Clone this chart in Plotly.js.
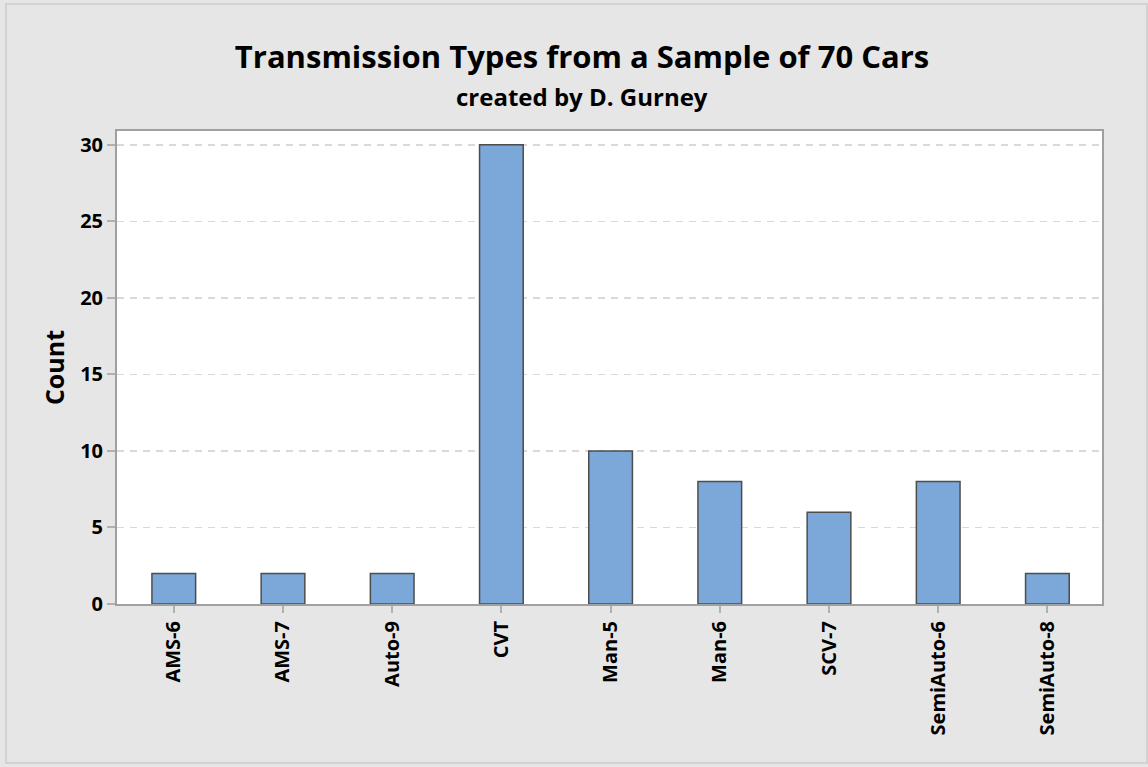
<!DOCTYPE html>
<html>
<head>
<meta charset="utf-8">
<script src="https://cdn.plot.ly/plotly-3.0.1.min.js"></script>
<style>html,body{margin:0;padding:0;background:#ffffff;}#chart{width:1148px;height:767px;}</style>
</head>
<body>
<div id="chart"></div>
<script>
const categories = ["AMS-6","AMS-7","Auto-9","CVT","Man-5","Man-6","SCV-7","SemiAuto-6","SemiAuto-8"];
const counts = [2, 2, 2, 30, 10, 8, 6, 8, 2];
const yTicks = [0, 5, 10, 15, 20, 25, 30];

const fontFam = "'Open Sans', 'Noto Sans', sans-serif";

const trace = {
  type: 'bar',
  x: categories,
  y: counts,
  width: 0.4,
  marker: {color: '#7BA7D9', line: {color: '#4d4d4d', width: 1.5}},
  hoverinfo: 'x+y'
};

const layout = {
  width: 1148, height: 767,
  paper_bgcolor: '#e6e6e6',
  plot_bgcolor: '#ffffff',
  margin: {l: 117, r: 46, t: 131, b: 163},
  showlegend: false,
  title: {text: '<b>Transmission Types from a Sample of 70 Cars</b>', xref: 'paper', x: (582-117)/985, xanchor: 'center', y: 0.925, yanchor: 'middle',
          font: {family: fontFam, size: 31, color: '#000'}},
  annotations: [{text: '<b>created by D. Gurney</b>', xref: 'paper', yref: 'paper', x: (582-117)/985, y: 1 + (131-96)/473, xanchor: 'center', yanchor: 'middle',
                 showarrow: false, font: {family: fontFam, size: 24, color: '#000'}}],
  xaxis: {
    type: 'category', range: [-0.52, 8.5],
    tickangle: -90, ticks: 'outside', ticklen: 7, tickwidth: 2, tickcolor: '#b0b0b0',
    tickfont: {family: fontFam, size: 20, color: '#000', weight: 'bold'},
    showline: true, linecolor: '#a0a0a0', linewidth: 2, mirror: true,
    showgrid: false, zeroline: false
  },
  yaxis: {
    range: [0, 30.9], tickvals: yTicks, ticktext: yTicks.map(String),
    ticks: 'outside', ticklen: 8, tickwidth: 2, tickcolor: '#b0b0b0',
    tickfont: {family: fontFam, size: 20, color: '#000', weight: 'bold'},
    showline: true, linecolor: '#a0a0a0', linewidth: 2, mirror: true,
    showgrid: true, gridcolor: '#d9d9d9', griddash: '7px,6px', gridwidth: 1.5,
    zeroline: false,
    title: {text: '<b>Count</b>', font: {family: fontFam, size: 25, color: '#000'}, standoff: 8}
  },
  shapes: [{type: 'rect', xref: 'paper', yref: 'paper',
            x0: (6-117)/985, x1: (1147-117)/985, y0: -(763-604)/473, y1: 1 + (131-4)/473,
            line: {color: '#cccccc', width: 1.5}, fillcolor: 'rgba(0,0,0,0)', layer: 'below'}]
};

Plotly.newPlot('chart', [trace], layout, {displayModeBar: false, staticPlot: true});
</script>
</body>
</html>
